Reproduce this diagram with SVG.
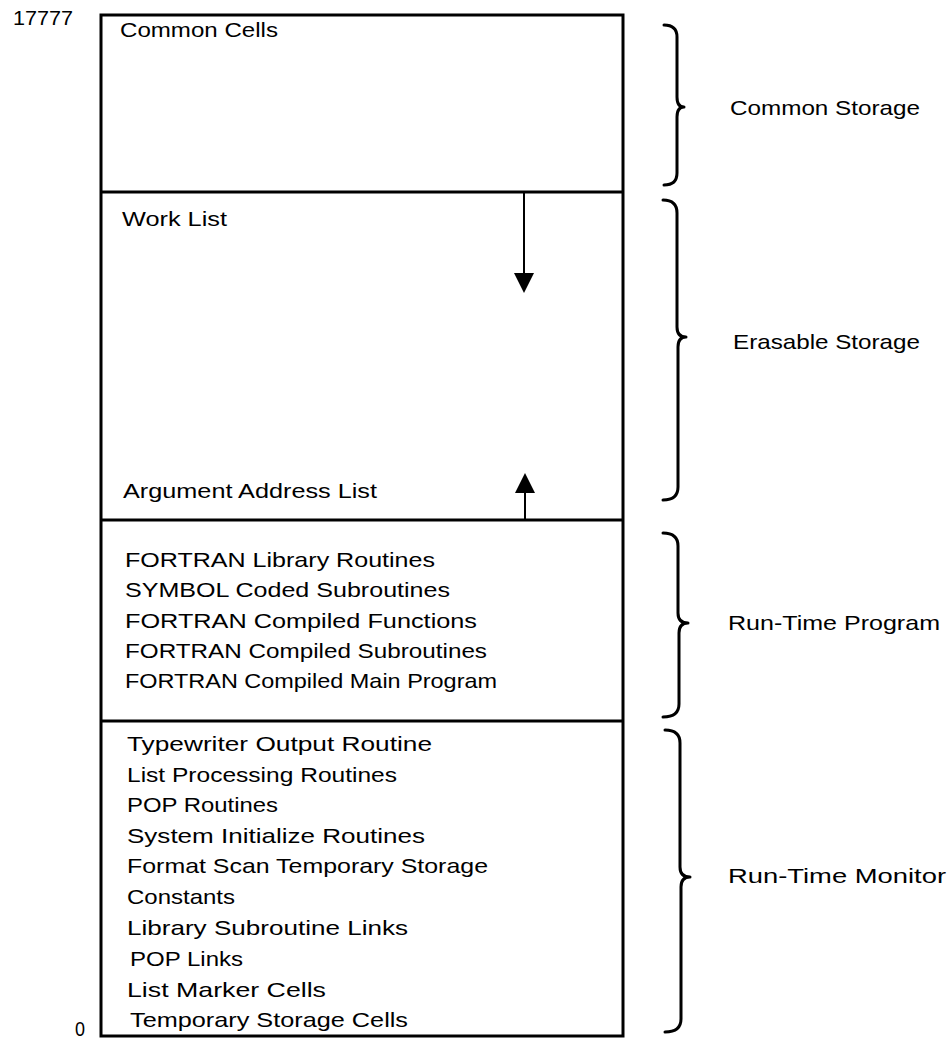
<svg xmlns="http://www.w3.org/2000/svg" width="949" height="1040" viewBox="0 0 949 1040">
<style>
  text { font-family: "Liberation Sans", Arial, sans-serif; font-size: 21px; fill: #000; }
  .box { fill: none; stroke: #000; stroke-width: 3; }
  .div { stroke: #000; stroke-width: 3; }
  .brace { fill: none; stroke: #000; stroke-width: 3; stroke-linecap: round; stroke-linejoin: round; }
  .arr { stroke: #000; stroke-width: 2; }
  .head { fill: #000; }
</style>
<rect width="949" height="1040" fill="#fff"/>

<g id="addresses">
  <text x="13" y="25" font-size="19" textLength="60" lengthAdjust="spacingAndGlyphs">17777</text>
  <text x="75" y="1036" font-size="16" textLength="10" lengthAdjust="spacingAndGlyphs">0</text>
</g>

<g id="memory-frame">
  <rect class="box" x="101" y="15" width="522" height="1021"/>
</g>

<g id="common-storage">
  <text x="120" y="37" textLength="158" lengthAdjust="spacingAndGlyphs">Common Cells</text>
  <line class="div" x1="101" y1="192" x2="623" y2="192"/>
</g>

<g id="erasable-storage">
  <text x="122" y="226" textLength="105" lengthAdjust="spacingAndGlyphs">Work List</text>
  <text x="123" y="498" textLength="254" lengthAdjust="spacingAndGlyphs">Argument Address List</text>
  <line class="div" x1="101" y1="520" x2="623" y2="520"/>
</g>

<g id="run-time-program">
  <text x="125" y="567" textLength="310" lengthAdjust="spacingAndGlyphs">FORTRAN Library Routines</text>
  <text x="125" y="597" textLength="325" lengthAdjust="spacingAndGlyphs">SYMBOL Coded Subroutines</text>
  <text x="125" y="628" textLength="352" lengthAdjust="spacingAndGlyphs">FORTRAN Compiled Functions</text>
  <text x="125" y="658" textLength="362" lengthAdjust="spacingAndGlyphs">FORTRAN Compiled Subroutines</text>
  <text x="125" y="688" textLength="372" lengthAdjust="spacingAndGlyphs">FORTRAN Compiled Main Program</text>
  <line class="div" x1="101" y1="721" x2="623" y2="721"/>
</g>

<g id="run-time-monitor">
  <text x="127" y="751" textLength="305" lengthAdjust="spacingAndGlyphs">Typewriter Output Routine</text>
  <text x="127" y="782" textLength="270" lengthAdjust="spacingAndGlyphs">List Processing Routines</text>
  <text x="127" y="812" textLength="151" lengthAdjust="spacingAndGlyphs">POP Routines</text>
  <text x="127" y="843" textLength="298" lengthAdjust="spacingAndGlyphs">System Initialize Routines</text>
  <text x="127" y="873" textLength="361" lengthAdjust="spacingAndGlyphs">Format Scan Temporary Storage</text>
  <text x="127" y="904" textLength="108" lengthAdjust="spacingAndGlyphs">Constants</text>
  <text x="127" y="935" textLength="281" lengthAdjust="spacingAndGlyphs">Library Subroutine Links</text>
  <text x="130" y="966" textLength="113" lengthAdjust="spacingAndGlyphs">POP Links</text>
  <text x="127" y="997" textLength="199" lengthAdjust="spacingAndGlyphs">List Marker Cells</text>
  <text x="130" y="1027" textLength="278" lengthAdjust="spacingAndGlyphs">Temporary Storage Cells</text>
</g>

<g id="connectors">
  <line class="arr" x1="524" y1="192" x2="524" y2="276"/>
  <path class="head" d="M514,273 L534,273 L524,293 Z"/>
  <line class="arr" x1="525" y1="520" x2="525" y2="490"/>
  <path class="head" d="M515,493 L535,493 L525,473 Z"/>
</g>

<g id="brace-common">
  <path class="brace" d="M664,25 Q677,25 677,37 L677,97 Q677,107 684,107 Q677,107 677,117 L677,173 Q677,185 664,185"/>
  <text x="730" y="115" textLength="190" lengthAdjust="spacingAndGlyphs">Common Storage</text>
</g>

<g id="brace-erasable">
  <path class="brace" d="M663,200 Q677,200 677,213 L677,327 Q677,337 686,337 Q678,337 678,347 L678,487 Q678,500 663,500"/>
  <text x="733" y="349" textLength="187" lengthAdjust="spacingAndGlyphs">Erasable Storage</text>
</g>

<g id="brace-program">
  <path class="brace" d="M663,533 Q678,533 678,546 L678,613 Q678,623 688,623 Q679,623 679,633 L679,704 Q679,717 663,717"/>
  <text x="728" y="630" textLength="212" lengthAdjust="spacingAndGlyphs">Run-Time Program</text>
</g>

<g id="brace-monitor">
  <path class="brace" d="M665,730 Q680,730 680,743 L680,867 Q680,877 690,877 Q681,877 681,887 L681,1019 Q681,1032 665,1032"/>
  <text x="728" y="883" textLength="218" lengthAdjust="spacingAndGlyphs">Run-Time Monitor</text>
</g>
</svg>
